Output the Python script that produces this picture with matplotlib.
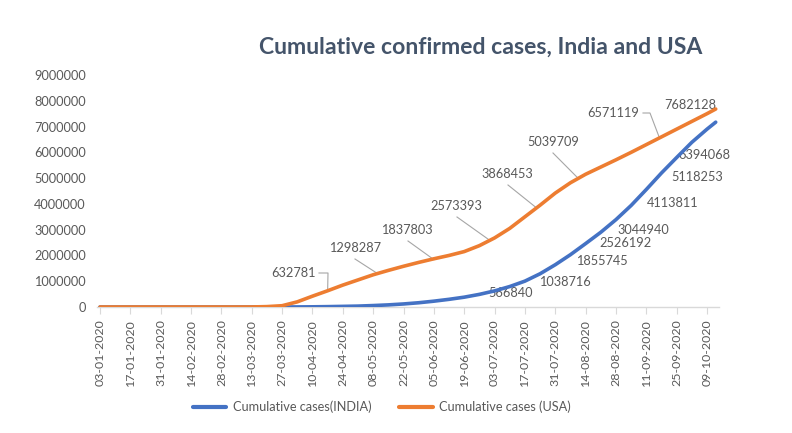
import matplotlib
matplotlib.use("Agg")
import matplotlib.pyplot as plt

# ---------------- data ----------------
start_date = "2020-01-03"
days = list(range(0, 281, 7)) + [284]

usa_cases = [0, 0, 0, 0, 0, 0, 0, 0, 0, 0,
             2000, 15000, 50000, 200000, 420000, 630000, 850000, 1050000, 1250000, 1420000,
             1580000, 1730000, 1870000, 2000000, 2150000, 2380000, 2680000, 3050000, 3500000, 3950000,
             4420000, 4820000, 5150000, 5430000, 5710000, 6000000, 6300000, 6600000, 6900000, 7200000,
             7500000, 7680000]

india_cases = [0, 0, 0, 0, 0, 0, 0, 0, 0, 0,
               100, 200, 700, 2500, 7000, 14000, 24000, 35000, 56000, 82000,
               118000, 165000, 226000, 298000, 381000, 490000, 625000, 794000, 1004000, 1290000,
               1640000, 2030000, 2460000, 2900000, 3390000, 3940000, 4560000, 5200000, 5800000, 6390000,
               6900000, 7170000]

tick_days = list(range(0, 281, 14))
tick_labels = ["03-01-2020", "17-01-2020", "31-01-2020", "14-02-2020", "28-02-2020",
               "13-03-2020", "27-03-2020", "10-04-2020", "24-04-2020", "08-05-2020",
               "22-05-2020", "05-06-2020", "19-06-2020", "03-07-2020", "17-07-2020",
               "31-07-2020", "14-08-2020", "28-08-2020", "11-09-2020", "25-09-2020",
               "09-10-2020"]

y_ticks = [0, 1000000, 2000000, 3000000, 4000000, 5000000, 6000000, 7000000, 8000000, 9000000]

# labelled points: value, day of point
usa_label_values = [632781, 1298287, 1837803, 2573393, 3868453, 5039709, 6571119, 7682128]
usa_label_days = [105, 128, 154, 180, 201, 220, 258, 284]
india_label_values = [566840, 1038716, 1855745, 2526192, 3044940, 4113811, 5118253, 6394068]

# ---------------- layout helpers ----------------
W, H = 792, 433
BLUE = "#4472C4"
ORANGE = "#ED7D31"
GRAY = "#595959"
LEADER = "#A6A6A6"
FS = 9.2

plt.rcParams['font.family'] = ['Lato', 'DejaVu Sans']

fig = plt.figure(figsize=(W / 100, H / 100), dpi=100)
ax_left, ax_right, y0_px, ytop_px = 97, 719, 307, 75
ax = fig.add_axes([ax_left / W, (H - y0_px) / H, (ax_right - ax_left) / W, (y0_px - ytop_px) / H])

px_per_day = 2.168
x_lo = -(100 - ax_left) / px_per_day
x_hi = x_lo + (ax_right - ax_left) / px_per_day
ax.set_xlim(x_lo, x_hi)
ax.set_ylim(0, 9000000)


def px2data(px, py):
    inv = ax.transData.inverted()
    return inv.transform(fig.transFigure.transform((px / W, (H - py) / H)))


ax.plot(days, india_cases, color=BLUE, lw=2.6, solid_joinstyle='round', solid_capstyle='round',
        zorder=4, label="Cumulative cases(INDIA)")
ax.plot(days, usa_cases, color=ORANGE, lw=2.6, solid_joinstyle='round', solid_capstyle='round',
        zorder=4, label="Cumulative cases (USA)")

# axes styling
for s in ["left", "right", "top"]:
    ax.spines[s].set_visible(False)
ax.spines["bottom"].set_color("#D9D9D9")
ax.spines["bottom"].set_linewidth(1.0)
ax.set_xticks(tick_days)
ax.set_xticklabels(tick_labels, rotation=90, fontsize=8.9, color=GRAY)
ax.tick_params(axis='x', length=5, color="#D9D9D9", pad=4)
ax.set_yticks(y_ticks)
ax.set_yticklabels([str(v) for v in y_ticks], fontsize=FS, color=GRAY)
ax.tick_params(axis='y', length=0, pad=8)

# data labels (text centres in pixels — layout)
usa_text_px = [(294, 273), (355, 248), (407, 230), (456, 206), (507, 174), (553, 142), (613, 113), (690, 105)]
india_text_px = [(511, 293), (565, 282), (602, 261), (626, 243), (643, 230), (673, 203), (697, 177), (704, 155)]

for v, (tx, ty) in zip(usa_label_values, usa_text_px):
    x, y = px2data(tx, ty)
    ax.text(x, y, str(v), ha='center', va='center', fontsize=FS, color=GRAY, zorder=2)
for v, (tx, ty) in zip(india_label_values, india_text_px):
    x, y = px2data(tx, ty)
    ax.text(x, y, str(v), ha='center', va='center', fontsize=FS, color=GRAY, zorder=2)

# leader lines (start points in pixels near text, end at labelled point)
leader_starts = {
    632781: [(319, 273), (328, 273)],
    1298287: [(355, 259)],
    1837803: [(408, 241)],
    2573393: [(457, 217)],
    3868453: [(508, 185)],
    5039709: [(553, 153)],
    6571119: [(643, 113), (650, 113)],
}
for v, d in zip(usa_label_values, usa_label_days):
    if v not in leader_starts:
        continue
    pts = [px2data(px, py) for px, py in leader_starts[v]]
    xs = [p[0] for p in pts] + [d]
    ys = [p[1] for p in pts] + [v]
    ax.plot(xs, ys, color=LEADER, lw=0.8, zorder=3)

# title
fig.text(481 / W, 1 - 47 / H, "Cumulative confirmed cases, India and USA", ha='center', va='center',
         fontsize=16.6, fontweight='bold', color="#44546A")

# legend
leg = fig.legend(loc='center', bbox_to_anchor=(382 / W, 1 - 407 / H), ncol=2, frameon=False,
                 fontsize=FS, handlelength=2.6, columnspacing=2.2, handletextpad=0.5)
for t in leg.get_texts():
    t.set_color(GRAY)
for l in leg.get_lines():
    l.set_linewidth(3)

fig.savefig("out.png", dpi=100)
